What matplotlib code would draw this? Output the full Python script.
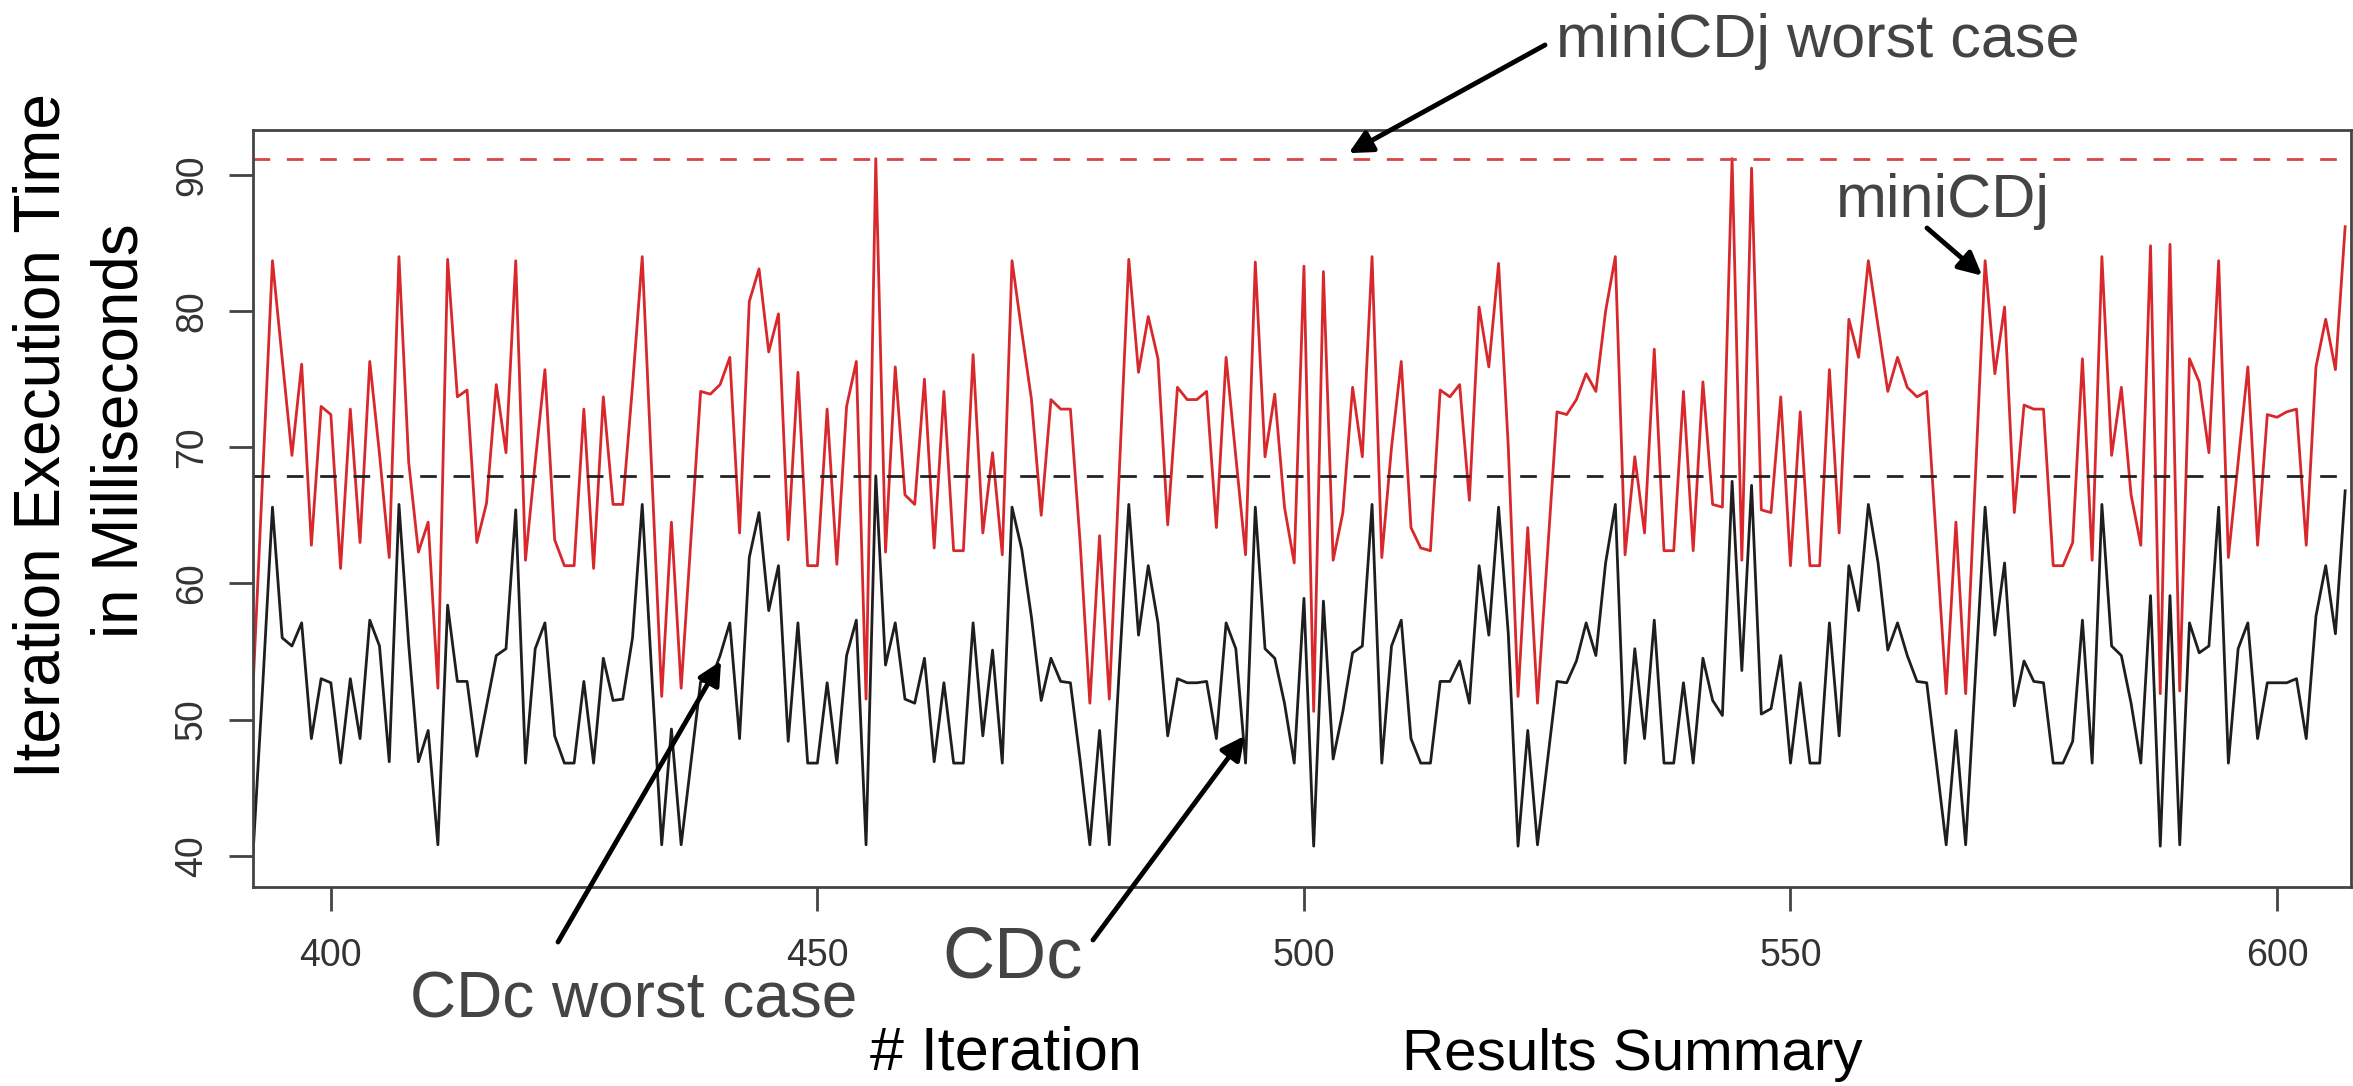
import numpy as np
import matplotlib.pyplot as plt

plt.rcParams['font.family'] = ['Liberation Sans', 'DejaVu Sans']

# iteration numbers start here, one value per iteration
first_iter = 392

# miniCDj (red) iteration times in ms
minicdj_ms = [
    52.3, 68.0, 83.7, 76.5, 69.4, 76.1, 62.8, 73.0, 72.4, 61.1,
    72.8, 63.0, 76.3, 69.5, 61.9, 84.0, 68.9, 62.3, 64.5, 52.3,
    83.8, 73.7, 74.2, 63.0, 65.9, 74.6, 69.6, 83.7, 61.7, 68.9,
    75.7, 63.2, 61.3, 61.3, 72.8, 61.1, 73.7, 65.8, 65.8, 74.5,
    84.0, 67.8, 51.7, 64.5, 52.3, 63.2, 74.1, 73.9, 74.6, 76.6,
    63.7, 80.7, 83.1, 77.0, 79.8, 63.2, 75.5, 61.3, 61.3, 72.8,
    61.4, 73.0, 76.3, 51.5, 91.2, 62.3, 75.9, 66.5, 65.8, 75.0,
    62.6, 74.1, 62.4, 62.4, 76.8, 63.7, 69.6, 62.1, 83.7, 78.5,
    73.5, 65.0, 73.5, 72.8, 72.8, 63.0, 51.2, 63.5, 51.5, 67.8,
    83.8, 75.5, 79.6, 76.5, 64.3, 74.4, 73.5, 73.5, 74.1, 64.1,
    76.6, 69.3, 62.1, 83.6, 69.3, 73.9, 65.6, 61.5, 83.3, 50.6,
    82.9, 61.7, 65.2, 74.4, 69.3, 84.0, 61.9, 70.0, 76.3, 64.1,
    62.6, 62.4, 74.2, 73.7, 74.6, 66.1, 80.3, 75.9, 83.5, 70.0,
    51.7, 64.1, 51.2, 61.9, 72.6, 72.4, 73.5, 75.4, 74.1, 80.0,
    84.0, 62.1, 69.3, 63.7, 77.2, 62.4, 62.4, 74.1, 62.4, 74.8,
    65.8, 65.6, 91.2, 61.7, 90.5, 65.4, 65.2, 73.7, 61.3, 72.6,
    61.3, 61.3, 75.7, 63.7, 79.4, 76.6, 83.7, 78.9, 74.1, 76.6,
    74.4, 73.7, 74.1, 63.0, 51.9, 64.5, 51.9, 67.8, 83.7, 75.4,
    80.3, 65.2, 73.1, 72.8, 72.8, 61.3, 61.3, 63.0, 76.5, 61.7,
    84.0, 69.4, 74.4, 66.5, 62.8, 84.8, 51.9, 84.9, 52.1, 76.5,
    74.8, 69.6, 83.7, 61.9, 68.9, 75.9, 62.8, 72.4, 72.2, 72.6,
    72.8, 62.8, 75.9, 79.4, 75.7, 86.2,
]

# CDc (black) iteration times in ms
cdc_ms = [
    40.1, 52.5, 65.6, 56.0, 55.4, 57.1, 48.6, 53.0, 52.7, 46.8,
    53.0, 48.6, 57.3, 55.4, 46.9, 65.8, 55.5, 46.9, 49.2, 40.8,
    58.4, 52.8, 52.8, 47.3, 51.0, 54.7, 55.2, 65.4, 46.8, 55.2,
    57.1, 48.8, 46.8, 46.8, 52.8, 46.8, 54.5, 51.4, 51.5, 56.0,
    65.8, 53.0, 40.8, 49.3, 40.8, 46.8, 52.8, 52.8, 54.7, 57.1,
    48.6, 61.9, 65.2, 58.0, 61.3, 48.4, 57.1, 46.8, 46.8, 52.7,
    46.8, 54.7, 57.3, 40.8, 67.9, 54.0, 57.1, 51.5, 51.2, 54.5,
    46.9, 52.7, 46.8, 46.8, 57.1, 48.8, 55.1, 46.8, 65.6, 62.5,
    57.5, 51.4, 54.5, 52.8, 52.7, 47.0, 40.8, 49.2, 40.8, 53.4,
    65.8, 56.2, 61.3, 57.1, 48.8, 53.0, 52.7, 52.7, 52.8, 48.6,
    57.1, 55.2, 46.8, 65.6, 55.2, 54.5, 51.2, 46.8, 58.9, 40.7,
    58.7, 47.1, 50.6, 54.9, 55.4, 65.8, 46.8, 55.4, 57.3, 48.6,
    46.8, 46.8, 52.8, 52.8, 54.3, 51.2, 61.3, 56.2, 65.6, 56.3,
    40.7, 49.2, 40.8, 46.8, 52.8, 52.7, 54.3, 57.1, 54.7, 61.5,
    65.8, 46.8, 55.2, 48.6, 57.3, 46.8, 46.8, 52.7, 46.8, 54.5,
    51.4, 50.3, 67.5, 53.6, 67.2, 50.4, 50.8, 54.7, 46.8, 52.7,
    46.8, 46.8, 57.1, 48.8, 61.3, 58.0, 65.8, 61.5, 55.1, 57.1,
    54.7, 52.8, 52.7, 46.8, 40.8, 49.2, 40.8, 53.2, 65.6, 56.2,
    61.5, 51.0, 54.3, 52.8, 52.7, 46.8, 46.8, 48.4, 57.3, 46.8,
    65.8, 55.4, 54.7, 51.2, 46.8, 59.1, 40.7, 59.1, 40.8, 57.1,
    54.9, 55.4, 65.6, 46.8, 55.2, 57.1, 48.6, 52.7, 52.7, 52.7,
    53.0, 48.6, 57.6, 61.3, 56.3, 66.8,
]

minicdj_worst = 91.2
cdc_worst = 67.9

x_ticks = [400, 450, 500, 550, 600]
y_ticks = [40, 50, 60, 70, 80, 90]

W, H = 2353, 1086


def fig_xy(x, y):
    # pixel position measured from the top-left of the picture -> figure fraction
    return (x / W, 1 - y / H)


fig = plt.figure(figsize=(W / 100, H / 100), dpi=100)
ax = fig.add_axes([253 / W, 1 - 887 / H, (2351 - 253) / W, (887 - 130) / H])

iters = np.arange(first_iter, first_iter + len(cdc_ms))
ax.plot(iters, minicdj_ms, color='#d8282c', lw=2)
ax.plot(iters, cdc_ms, color='#1e1e1e', lw=2)
ax.axhline(minicdj_worst, color='#d94444', lw=2, ls=(0, (6, 6)))
ax.axhline(cdc_worst, color='#222222', lw=2, ls=(0, (6, 6)))

ax.set_xlim(392, 607.6)
ax.set_ylim(37.7, 93.3)
ax.set_xticks(x_ticks)
ax.set_yticks(y_ticks)
ax.tick_params(length=17, width=2, color='#444444', labelsize=27, labelcolor='#333333')
ax.tick_params(axis='x', pad=20)
ax.tick_params(axis='y', pad=14)
for lbl in ax.get_yticklabels():
    lbl.set_rotation(90)
    lbl.set_va('center')
for sp in ax.spines.values():
    sp.set_color('#444444')
    sp.set_linewidth(2)

# y axis title, two lines
fig.text(*fig_xy(43, 435), 'Iteration Execution Time', rotation=90,
         ha='center', va='center', fontsize=46)
fig.text(*fig_xy(120, 431), 'in Milliseconds', rotation=90,
         ha='center', va='center', fontsize=46)

# annotations
note = '#444444'
fig.text(*fig_xy(1556, 42), 'miniCDj worst case', ha='left', va='center',
         fontsize=44, color=note)
fig.text(*fig_xy(1836, 202), 'miniCDj', ha='left', va='center',
         fontsize=44, color=note)
fig.text(*fig_xy(410, 1018), 'CDc worst case', ha='left', va='baseline',
         fontsize=46, color=note)
fig.text(*fig_xy(942, 978), 'CDc', ha='left', va='baseline',
         fontsize=52, color=note)
fig.text(*fig_xy(870, 1070), '# Iteration', ha='left', va='baseline',
         fontsize=44, color='black')
fig.text(*fig_xy(1402, 1070), 'Results Summary', ha='left', va='baseline',
         fontsize=42, color='black')

arrows = [
    ((504.6, 91.6), (1545, 45)),
    ((569.7, 82.6), (1927, 228)),
    ((440.1, 54.3), (558, 942)),
    ((493.9, 48.8), (1093, 940)),
]
for tip, tail in arrows:
    ax.annotate('', xy=tip, xycoords='data', xytext=fig_xy(*tail),
                textcoords='figure fraction', annotation_clip=False,
                arrowprops=dict(arrowstyle='-|>', color='black', lw=3.5,
                                mutation_scale=35, shrinkA=0, shrinkB=0))

fig.savefig('out.png', dpi=100)
